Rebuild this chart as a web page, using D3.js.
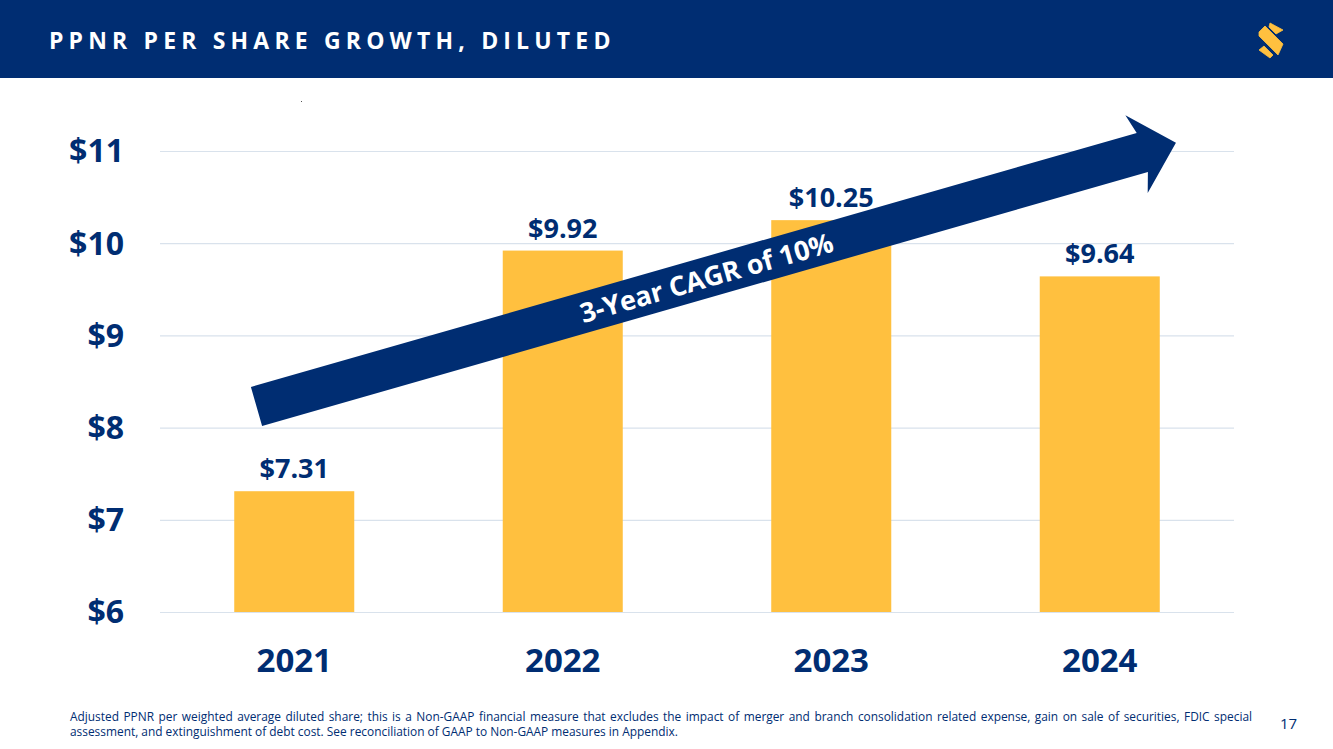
<!DOCTYPE html>
<html><head><meta charset="utf-8">
<script src="https://cdn.jsdelivr.net/npm/d3@7"></script>
<style>html,body{margin:0;padding:0;background:#fff;overflow:hidden}svg{display:block;font-family:"Open Sans",sans-serif}</style>
</head><body><svg id="c" width="1333" height="749"></svg>
<script>
const categories=["2021","2022","2023","2024"];
const values=[7.31,9.92,10.25,9.64];
const valueLabels=["$7.31","$9.92","$10.25","$9.64"];
const yTicks=[6,7,8,9,10,11];
const title="PPNR PER SHARE GROWTH, DILUTED";
const arrowLabel="3-Year CAGR of 10%";
const footnotes=["Adjusted PPNR per weighted average diluted share; this is a Non-GAAP financial measure that excludes the impact of merger and branch consolidation related expense, gain on sale of securities, FDIC special","assessment, and extinguishment of debt cost. See reconciliation of GAAP to Non-GAAP measures in Appendix."];
const pageNumber="17";
const navy="#002d72",gold="#ffc03f",grid="#d9e2ec";

const svg=d3.select("#c");
svg.append("rect").attr("width",1333).attr("height",78).attr("fill",navy);
svg.append("text").attr("x",49).attr("y",49).attr("fill","#fff").attr("font-size",23).attr("font-weight",700).attr("letter-spacing",5.17).text(title);
// logo
const logo=svg.append("g").attr("fill",gold);
[[[1270,23],[1283,30],[1276,34],[1269,27]],
 [[1259,32],[1265,26],[1283,44],[1278,55],[1259,36]],
 [[1259,50],[1264,46],[1273,55],[1270,58]]].forEach(p=>logo.append("polygon").attr("points",p.join(" ")).attr("stroke",gold).attr("stroke-width",.8).attr("stroke-linejoin","round"));
svg.append("rect").attr("x",301).attr("y",101).attr("width",1).attr("height",1).attr("fill","#555");

const x=d3.scaleBand().domain(categories).range([160,1234]).paddingInner(.553).paddingOuter(.2765);
const y=d3.scaleLinear().domain([6,11]).range([612,151]);

const ya=svg.append("g").attr("transform","translate(160,0)").call(d3.axisLeft(y).tickValues(yTicks).tickFormat(d=>"$"+d).tickSize(0).tickPadding(36));
ya.select(".domain").remove();
ya.selectAll("text").attr("fill",navy).attr("font-size",32).attr("font-weight",700).attr("font-family",'"Open Sans",sans-serif').attr("dy","0.34em");
ya.selectAll(".tick").append("line").attr("x1",0).attr("x2",1074).attr("stroke",grid).attr("stroke-width",1.2);

svg.selectAll(".bar").data(categories).join("rect").attr("class","bar")
 .attr("x",d=>x(d)).attr("width",x.bandwidth())
 .attr("y",(d,i)=>y(values[i])).attr("height",(d,i)=>y(6)-y(values[i])).attr("fill",gold);
svg.selectAll(".val").data(categories).join("text").attr("class","val")
 .attr("x",d=>x(d)+x.bandwidth()/2).attr("y",(d,i)=>y(values[i])-13)
 .attr("text-anchor","middle").attr("fill",navy).attr("font-size",27).attr("font-weight",700).text((d,i)=>valueLabels[i]);
const xa=svg.append("g").attr("transform","translate(0,612)").call(d3.axisBottom(x).tickSize(0).tickPadding(37));
xa.select(".domain").remove();
xa.selectAll("text").attr("fill",navy).attr("font-size",33).attr("font-weight",700).attr("font-family",'"Open Sans",sans-serif');

// arrow drawn along its own axis
const len=956.5,sw=40.6,hw=81,hl=41;
const arrow=svg.append("g").attr("transform","translate(256.5,406.5) rotate(-16)");
arrow.append("polygon").attr("fill",navy).attr("points",[[0,-sw/2],[len-hl+6,-sw/2],[len-hl,-hw/2],[len,0],[len-hl,hw/2],[len-hl+6,sw/2],[0,sw/2]].join(" "));
arrow.append("text").attr("x",468).attr("y",10).attr("text-anchor","middle").attr("fill","#fff").attr("font-size",27).attr("font-weight",700).text(arrowLabel);

footnotes.forEach((t,i)=>{
 const s=svg.append("text").attr("x",70).attr("y",720.5+i*15).attr("fill",navy).attr("font-size",11.9).text(t);
 if(i===0){
  const w=s.node().getComputedTextLength();
  s.attr("word-spacing",(1182-w)/(t.split(" ").length-1));
 }
});
svg.append("text").attr("x",1280).attr("y",729).attr("fill",navy).attr("font-size",15).text(pageNumber);
</script></body></html>
